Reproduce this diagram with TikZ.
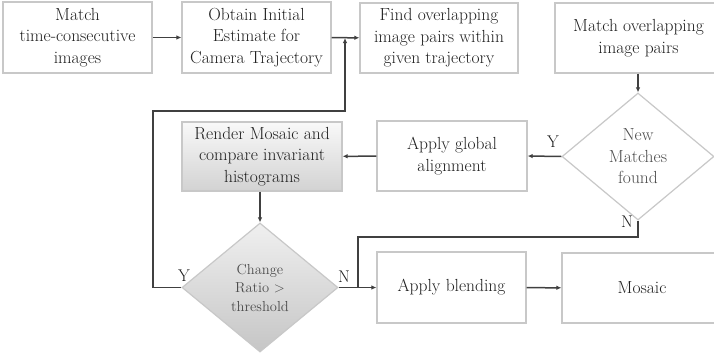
\documentclass[tikz,border=0pt]{standalone}
\usetikzlibrary{shapes.geometric,arrows.meta}
\definecolor{boxline}{HTML}{C8C8C8}
\definecolor{conn}{HTML}{404040}
\definecolor{txt}{HTML}{202020}
\begin{document}
\begin{tikzpicture}[x=1pt,y=-1pt,
  procbox/.style={draw=boxline,line width=1.2pt,fill=white,rectangle,inner sep=2pt,
    align=center,text=txt,font=\fontsize{17.5}{21.7}\selectfont},
  decide/.style={draw=boxline,line width=1.2pt,diamond,inner sep=0pt,align=center,
    text=txt!80,font=\fontsize{17.5}{21.5}\selectfont},
  conline/.style={draw=conn,line width=1.5pt},
  arr/.style={conline,-{Latex[length=5pt,width=4.5pt]}},
  lbl/.style={text=txt,font=\fontsize{17}{17}\selectfont,inner sep=0pt}]
\useasboundingbox (0,0) rectangle (714,356);
\fill[white] (0,0) rectangle (714,356);
\node[procbox,minimum width=149pt,minimum height=71pt] (b1) at (77.5,37.5) {Match\\time-consecutive\\images};
\node[procbox,minimum width=149pt,minimum height=71pt] (b2) at (256.5,37.5) {Obtain Initial\\Estimate for\\Camera Trajectory};
\node[procbox,minimum width=158pt,minimum height=70pt] (b3) at (439,38) {Find overlapping\\image pairs within\\given trajectory};
\node[procbox,minimum width=167pt,minimum height=70pt] (b4) at (638.5,38) {Match overlapping\\image pairs};
\node[decide,minimum width=152pt,minimum height=127pt] (d1) at (638,156.5) {New\\Matches\\found};
\node[procbox,minimum width=150pt,minimum height=70pt] (ga) at (452,156) {Apply global\\alignment};
\node[procbox,top color=gray!5,bottom color=gray!35,minimum width=160pt,minimum height=69pt] (rm) at (262,156.5) {Render Mosaic and\\compare invariant\\histograms};
\node[decide,top color=gray!12,bottom color=gray!45,minimum width=156pt,minimum height=129pt,
  font=\fontsize{14.5}{18.5}\selectfont] (d2) at (260,287.5) {Change\\Ratio $>$\\threshold};
\node[procbox,minimum width=149pt,minimum height=71pt] (bl) at (451.5,287.5) {Apply blending};
\node[procbox,minimum width=160pt,minimum height=70pt] (mo) at (642,288) {Mosaic};
% coordinates
\coordinate (j1) at (345,38);
\coordinate (c1) at (153,287.5);
\coordinate (c2) at (153,111);
\coordinate (c3) at (345,111);
\coordinate (n1) at (638,237);
\coordinate (n2) at (358,237);
\coordinate (n3) at (358,287.5);
% connectors
\draw[arr] (b1) -- (b2);
\draw[arr] (b2) -- (b3);
\draw[arr] (b4.south -| d1.north) -- (d1.north);
\draw[arr] (d1.west) -- (ga.east);
\draw[arr] (ga) -- (rm);
\draw[arr] (rm.south -| d2.north) -- (d2.north);
\draw[arr] (d2.east) -- (bl.west);
\draw[arr] (bl) -- (mo);
\draw[arr] (d2.west) -- (c1) -- (c2) -- (c3) -- (j1);
\draw[conline] (d1.south) -- (n1) -- (n2) -- (n3);
% labels
\node[lbl] (ly1) at (553,142) {Y};
\node[lbl] (ln1) at (627,222) {N};
\node[lbl] (ly2) at (184,276) {Y};
\node[lbl] (ln2) at (344,277) {N};
\end{tikzpicture}
\end{document}
